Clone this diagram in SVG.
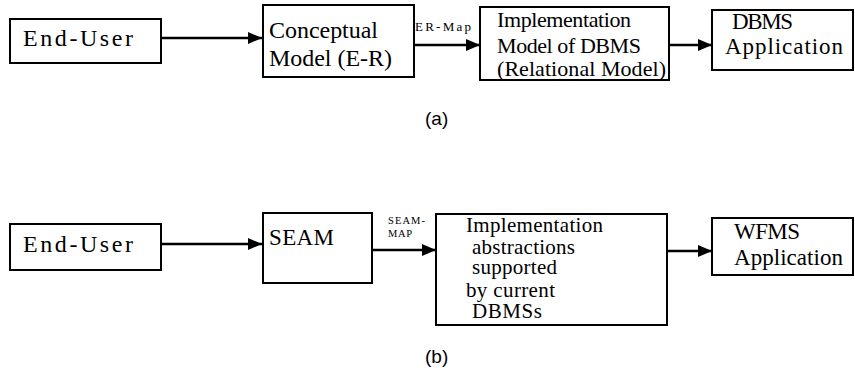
<svg xmlns="http://www.w3.org/2000/svg" width="855" height="377" viewBox="0 0 855 377">
<defs>
<marker id="ah" markerUnits="userSpaceOnUse" markerWidth="14" markerHeight="12" refX="14" refY="6" orient="auto">
<path d="M0,0 L14,6 L0,12 z" fill="#000"/>
</marker>
</defs>
<rect width="855" height="377" fill="#fff"/>
<g font-family="Liberation Serif" fill="#000">
<g id="a-enduser">
<rect x="10" y="19" width="151" height="44" fill="#fff" stroke="#000" stroke-width="2"/>
<text x="23" y="46" font-size="24" textLength="110" lengthAdjust="spacing">End-User</text>
</g>
<g id="a-conceptual">
<rect x="263" y="5" width="151" height="72" fill="#fff" stroke="#000" stroke-width="2"/>
<text x="269" y="38" font-size="24" textLength="109" lengthAdjust="spacing">Conceptual</text>
<text x="269" y="66" font-size="24" textLength="123" lengthAdjust="spacing">Model (E-R)</text>
</g>
<g id="a-implementation">
<rect x="480" y="7" width="189" height="73" fill="#fff" stroke="#000" stroke-width="2"/>
<text x="497" y="27" font-size="22" textLength="134" lengthAdjust="spacing">Implementation</text>
<text x="497" y="53" font-size="22" textLength="144" lengthAdjust="spacing">Model of DBMS</text>
<text x="497" y="76" font-size="22" textLength="169" lengthAdjust="spacing">(Relational Model)</text>
</g>
<g id="a-dbmsapp">
<rect x="712" y="10" width="141" height="60" fill="#fff" stroke="#000" stroke-width="2"/>
<text x="732" y="29" font-size="23" textLength="61" lengthAdjust="spacing">DBMS</text>
<text x="725" y="54" font-size="23" textLength="118" lengthAdjust="spacing">Application</text>
</g>
<g id="b-enduser">
<rect x="10" y="224" width="151" height="46" fill="#fff" stroke="#000" stroke-width="2"/>
<text x="23" y="252" font-size="24" textLength="110" lengthAdjust="spacing">End-User</text>
</g>
<g id="b-seam">
<rect x="263" y="213" width="109" height="70" fill="#fff" stroke="#000" stroke-width="2"/>
<text x="269" y="245" font-size="23" textLength="65" lengthAdjust="spacing">SEAM</text>
</g>
<g id="b-implementation">
<rect x="436" y="214" width="231" height="111" fill="#fff" stroke="#000" stroke-width="2"/>
<text x="466" y="232" font-size="21" textLength="137" lengthAdjust="spacing">Implementation</text>
<text x="472" y="254" font-size="21" textLength="103" lengthAdjust="spacing">abstractions</text>
<text x="472" y="274" font-size="21" textLength="85" lengthAdjust="spacing">supported</text>
<text x="466" y="297" font-size="21" textLength="89" lengthAdjust="spacing">by current</text>
<text x="472" y="318" font-size="21" textLength="70" lengthAdjust="spacing">DBMSs</text>
</g>
<g id="b-wfmsapp">
<rect x="712" y="218" width="141" height="57" fill="#fff" stroke="#000" stroke-width="2"/>
<text x="734" y="239" font-size="23" textLength="66" lengthAdjust="spacing">WFMS</text>
<text x="734" y="265" font-size="23" textLength="109" lengthAdjust="spacing">Application</text>
</g>
<g id="connectors" stroke="#000" stroke-width="2.5" marker-end="url(#ah)">
<line x1="161" y1="38" x2="262" y2="38" marker-end="url(#ah)"/>
<line x1="414" y1="45" x2="480" y2="45" marker-end="url(#ah)"/>
<line x1="669" y1="45" x2="712" y2="45" marker-end="url(#ah)"/>
<line x1="161" y1="244" x2="262" y2="244" marker-end="url(#ah)"/>
<line x1="372" y1="250" x2="436" y2="250" marker-end="url(#ah)"/>
<line x1="667" y1="251" x2="712" y2="251" marker-end="url(#ah)"/>
</g>
<g id="connector-labels">
<text x="415" y="31" font-size="13" textLength="56" lengthAdjust="spacing">ER-Map</text>
<text x="388" y="224" font-size="10.5" textLength="37" lengthAdjust="spacing">SEAM-</text>
<text x="388" y="237" font-size="10.5" textLength="24" lengthAdjust="spacing">MAP</text>
</g>
</g>
<g id="captions" font-family="Liberation Sans" font-size="19" fill="#000">
<text x="425" y="125">(a)</text>
<text x="425" y="363">(b)</text>
</g>
</svg>
